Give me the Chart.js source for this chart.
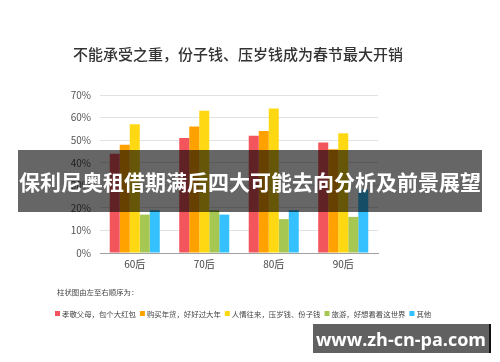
<!DOCTYPE html>
<html>
<head>
<meta charset="utf-8">
<script src="https://cdn.jsdelivr.net/npm/chart.js@4.4.1/dist/chart.umd.min.js"></script>
<style>
  body { margin: 0; background: #fff; }
  #wrap { position: relative; width: 500px; height: 362px; overflow: hidden; }
  #banner {
    position: absolute; left: 18px; top: 150px; width: 464px; height: 62px;
    background: rgba(0, 0, 0, 0.6); color: #fff;
    font: bold 21px "Noto Sans CJK SC", sans-serif;
    display: flex; align-items: center; justify-content: center; white-space: nowrap;
  }
  #site {
    position: absolute; left: 313px; top: 324px; width: 176px; height: 29px;
    background: rgba(0, 0, 0, 0.62); border-right: 2px solid #111; color: #fff;
    font: bold 18px "Open Sans", "DejaVu Sans", sans-serif;
    display: flex; align-items: center; justify-content: center;
  }
</style>
</head>
<body>
<div id="wrap">
  <canvas id="chart" width="500" height="362"></canvas>
  <div id="banner">保利尼奥租借期满后四大可能去向分析及前景展望</div>
  <div id="site">www.zh-cn-pa.com</div>
</div>
<script>
const categories = ['60后', '70后', '80后', '90后'];
const seriesNames = ['孝敬父母，包个大红包', '购买年货，好好过大年', '人情往来，压岁钱、份子钱', '旅游，好想看看这世界', '其他'];
const redPacket = [44, 51, 52, 49];
const newYearGoods = [48, 56, 54, 46];
const giftMoney = [57, 63, 64, 53];
const travel = [17, 19, 15, 16];
const others = [19, 17, 19, 28];
const yTicks = [0, 10, 20, 30, 40, 50, 60, 70];
const colors = ['#f2555c', '#ffa200', '#ffd814', '#a6c752', '#35c1ff'];

const chartTitle = '不能承受之重，份子钱、压岁钱成为春节最大开销';
const legendCaption = '柱状图由左至右顺序为：';

const seriesValues = [redPacket, newYearGoods, giftMoney, travel, others];

// title, caption and legend drawn straight on the canvas
const textPlugin = {
  id: 'textPlugin',
  afterDraw(chart) {
    const ctx = chart.ctx;
    ctx.save();
    ctx.fillStyle = '#333';
    ctx.font = '500 15px "Noto Sans CJK SC", sans-serif';
    ctx.textAlign = 'center';
    ctx.textBaseline = 'middle';
    ctx.fillText(chartTitle, 238, 54);

    ctx.textAlign = 'left';
    ctx.fillStyle = '#444';
    ctx.font = '7.4px "Noto Sans CJK SC", sans-serif';
    ctx.fillText(legendCaption, 57, 292);

    let x = 55;
    chart.data.datasets.forEach(ds => {
      ctx.fillStyle = ds.backgroundColor;
      ctx.fillRect(x, 311, 5, 5);
      ctx.fillStyle = '#444';
      ctx.fillText(ds.label, x + 7, 314);
      x += 7 + ctx.measureText(ds.label).width + 4;
    });
    ctx.restore();
  }
};

new Chart(document.getElementById('chart'), {
  type: 'bar',
  data: {
    labels: categories,
    datasets: seriesValues.map((vals, i) => ({
      label: seriesNames[i],
      data: vals,
      backgroundColor: colors[i],
      borderWidth: 0,
      categoryPercentage: 0.72,
      barPercentage: 1.0
    }))
  },
  options: {
    responsive: false,
    animation: false,
    layout: { padding: { top: 95, right: 122, bottom: 79, left: 0 } },
    plugins: {
      legend: { display: false },
      tooltip: { enabled: false }
    },
    scales: {
      x: {
        grid: { display: false, drawTicks: false },
        border: { display: true, color: '#a0a0a0', width: 1 },
        ticks: { color: '#444', font: { size: 10, family: '"Noto Sans CJK SC", sans-serif' }, padding: 5 },
        afterFit: s => { s.height = 30; }
      },
      y: {
        min: 0,
        max: 70,
        afterBuildTicks: s => { s.ticks = yTicks.map(v => ({ value: v })); },
        grid: { color: '#e2e2e2', drawTicks: false },
        border: { display: false },
        ticks: {
          color: '#555',
          padding: 9,
          font: { size: 10, family: '"Noto Sans CJK SC", sans-serif' },
          callback: v => v + '%'
        },
        afterFit: s => { s.width = 100; }
      }
    }
  },
  plugins: [textPlugin]
});
</script>
</body>
</html>
